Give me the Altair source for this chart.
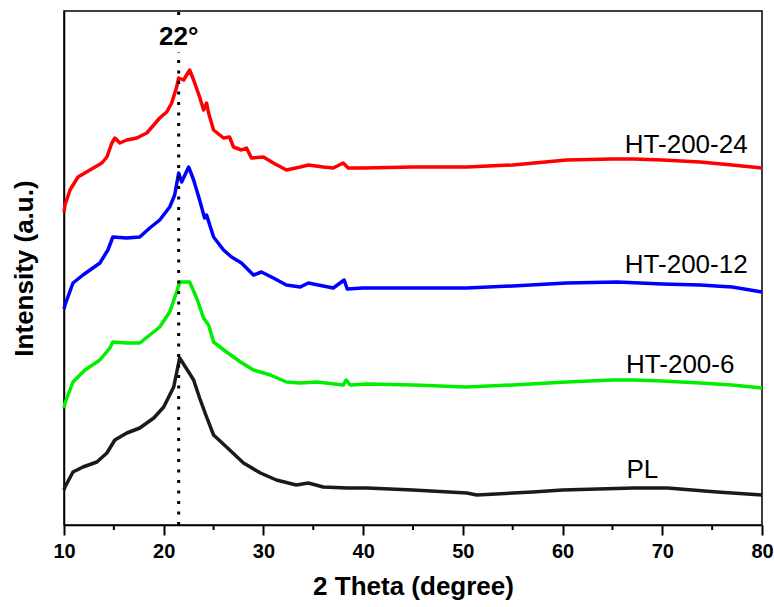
import altair as alt
import pandas as pd

# ---- data (2θ in degrees, intensity in arbitrary units) ----
red_x = [10.0, 10.1, 10.6, 11.4, 12.6, 13.8, 14.3, 14.8, 15.1, 15.6, 16.3, 17.3, 18.3, 19.0, 19.6,
         20.3, 20.8, 21.3, 21.5, 22.0, 22.3, 22.6, 23.0, 23.6, 24.0, 24.3, 24.5, 25.0, 26.0, 26.6,
         27.0, 27.8, 28.3, 28.8, 30.0, 31.0, 32.3, 33.7, 34.5, 36.0, 37.0, 38.0, 38.5, 40.0, 45.0,
         50.4, 55.0, 60.4, 65.0, 67.1, 70.0, 73.8, 77.0, 80.0]
red_y = [313, 320, 335, 348, 355, 362, 368, 382, 387, 382, 385, 387, 392, 400, 407,
         413, 422, 438, 447, 445, 450, 455, 445, 428, 415, 422, 412, 395, 387, 388,
         378, 375, 377, 367, 368, 362, 355, 358, 360, 358, 357, 362, 357, 357, 358,
         358, 360, 365, 366, 366, 365, 363, 360, 357]

blue_x = [10.0, 10.1, 10.9, 11.9, 13.6, 14.4, 14.9, 16.3, 17.6, 18.6, 19.6, 20.6, 21.1, 21.5, 21.8,
          22.5, 23.0, 23.6, 24.1, 24.3, 25.0, 26.0, 26.8, 27.8, 29.0, 29.8, 31.0, 32.3, 33.7, 34.5,
          35.5, 37.0, 38.1, 38.4, 40.0, 45.0, 50.4, 55.0, 60.4, 65.5, 70.0, 73.8, 77.0, 80.0]
blue_y = [216, 220, 242, 250, 262, 275, 288, 287, 288, 297, 305, 318, 330, 352, 343,
          358, 345, 325, 307, 310, 288, 275, 268, 262, 250, 253, 247, 240, 238, 242,
          240, 237, 245, 236, 237, 237, 237, 239, 242, 243, 241, 240, 238, 233]

green_x = [10.0, 10.1, 10.9, 12.1, 13.6, 14.6, 14.9, 16.3, 17.6, 18.6, 19.6, 20.6, 21.3, 21.6, 22.6,
           23.3, 24.0, 24.5, 25.0, 26.3, 27.7, 29.0, 30.7, 32.3, 33.7, 35.4, 38.0, 38.3, 38.7, 40.4,
           45.0, 50.4, 55.0, 60.4, 65.0, 67.1, 70.0, 73.8, 77.0, 80.0]
green_y = [117, 122, 143, 155, 165, 177, 183, 182, 182, 190, 198, 213, 233, 243, 243,
           227, 207, 200, 183, 173, 163, 155, 150, 143, 142, 143, 140, 145, 140, 141,
           140, 138, 140, 143, 145, 145, 144, 142, 140, 137]

black_x = [10.0, 10.1, 10.9, 11.9, 13.3, 14.3, 15.1, 16.3, 17.6, 19.0, 20.0, 21.0, 21.6, 22.5, 23.0,
           23.6, 24.3, 25.0, 26.3, 28.0, 29.7, 31.3, 33.3, 34.5, 36.0, 38.4, 40.4, 45.0, 50.4, 51.4,
           57.0, 60.0, 67.1, 70.5, 75.5, 80.0]
black_y = [35, 38, 53, 58, 63, 72, 85, 92, 97, 107, 118, 138, 167, 153, 145,
           127, 108, 90, 78, 62, 52, 45, 40, 42, 38, 37, 37, 35, 32, 30,
           33, 35, 37, 37, 33, 30]

series_names = ["HT-200-24", "HT-200-12", "HT-200-6", "PL"]
series_colors = ["#ff0000", "#0000ff", "#00ee00", "#1a1a1a"]

label_x = [72.4, 72.4, 71.8, 68.0]
label_y = [372, 252, 152, 47]

peak_pos = [21.5]
peak_label = ["22°"]
peak_label_y = [480]
rule_y_start = [0, 510]
rule_y_end = [473, 514]

major_ticks = [10, 20, 30, 40, 50, 60, 70, 80]
minor_ticks = [15, 25, 35, 45, 55, 65, 75]

# ---- build tables ----
frames = []
for name, xs, ys in zip(series_names,
                        [red_x, blue_x, green_x, black_x],
                        [red_y, blue_y, green_y, black_y]):
    frames.append(pd.DataFrame({"theta": xs, "intensity": ys, "series": name}))
curves = pd.concat(frames, ignore_index=True)

labels = pd.DataFrame({"theta": label_x, "intensity": label_y, "series": series_names})
rules = pd.DataFrame({"theta": peak_pos * len(rule_y_start), "y1": rule_y_start, "y2": rule_y_end})
peak_text = pd.DataFrame({"theta": peak_pos, "intensity": peak_label_y, "txt": peak_label})
minor_df = pd.DataFrame({"theta": minor_ticks})

FONT = "Liberation Sans"

x_scale = alt.Scale(domain=[10, 80], nice=False, zero=False)
y_scale = alt.Scale(domain=[0, 514], nice=False, zero=False)

x_axis = alt.Axis(
    title="2 Theta (degree)", values=major_ticks, labelFlush=False,
    tickSize=10, tickColor="black", tickWidth=2,
    domainColor="black", domainWidth=1.5,
    labelFont=FONT, labelFontSize=20, labelFontWeight="bold", labelColor="black",
    labelPadding=6, titleFont=FONT, titleFontSize=26, titleFontWeight="bold",
    titleColor="black", titlePadding=12, grid=False,
)
y_axis = alt.Axis(
    title="Intensity (a.u.)", labels=False, ticks=False, grid=False,
    domainColor="black", domainWidth=1.5,
    titleFont=FONT, titleFontSize=26, titleFontWeight="bold", titleColor="black",
    titlePadding=27,
)

color = alt.Color("series:N", scale=alt.Scale(domain=series_names, range=series_colors), legend=None)

lines = alt.Chart(curves).mark_line(strokeWidth=3.5, strokeJoin="round").encode(
    x=alt.X("theta:Q", scale=x_scale, axis=x_axis),
    y=alt.Y("intensity:Q", scale=y_scale, axis=y_axis),
    color=color,
    order="theta:Q",
)

minor = alt.Chart(minor_df).mark_rule(color="black", strokeWidth=2, clip=False).encode(
    x=alt.X("theta:Q", scale=x_scale),
    y=alt.value(514),
    y2=alt.value(519),
)

rule = alt.Chart(rules).mark_rule(color="black", strokeWidth=3, strokeDash=[3, 7.5]).encode(
    x=alt.X("theta:Q", scale=x_scale),
    y=alt.Y("y1:Q", scale=y_scale),
    y2="y2:Q",
)

series_text = alt.Chart(labels).mark_text(
    font=FONT, fontSize=26, color="black", align="center", baseline="alphabetic"
).encode(
    x=alt.X("theta:Q", scale=x_scale),
    y=alt.Y("intensity:Q", scale=y_scale),
    text="series:N",
)

peak = alt.Chart(peak_text).mark_text(
    font=FONT, fontSize=26, fontWeight="bold", color="black", align="center", baseline="alphabetic"
).encode(
    x=alt.X("theta:Q", scale=x_scale),
    y=alt.Y("intensity:Q", scale=y_scale),
    text="txt:N",
)

chart = alt.layer(lines, rule, minor, series_text, peak).properties(
    width=698, height=514,
    autosize=alt.AutoSizeParams(type="none"),
    padding={"left": 64, "top": 11, "right": 12, "bottom": 82},
    background="white",
).configure_view(stroke="black", strokeWidth=1.5)

chart.save("out.html", embed_options={"renderer": "svg", "actions": False})
